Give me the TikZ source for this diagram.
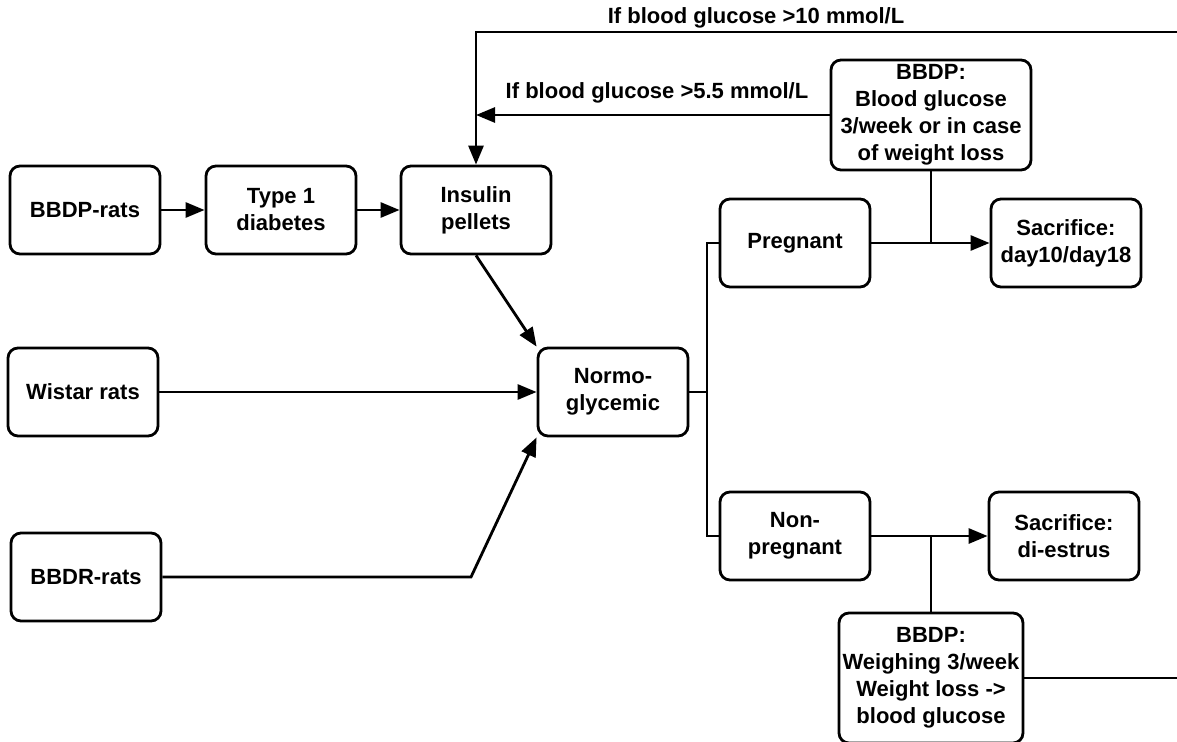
\documentclass[tikz,border=0pt]{standalone}
\usepackage{fontspec}
\setmainfont{Liberation Sans}
\usetikzlibrary{arrows.meta}
\newcommand{\flowbox}[4][]{\node[flow,#1] at (#2) (#3) {#4}}

\begin{document}
\begin{tikzpicture}[x=1pt,y=-1pt,
    flow/.style={draw,rounded corners=10pt,line width=2.8pt,minimum width=150pt,
      minimum height=88pt,align=center,inner sep=2pt,
      font=\fontsize{22}{27}\selectfont\bfseries},
    lbl/.style={inner sep=0pt,font=\fontsize{22}{27}\selectfont\bfseries},
    conn/.style={line width=2.8pt},
    arr/.style={conn,-{Triangle[length=19pt,width=15pt]}}]
  \useasboundingbox (0,0) rectangle (1177,741);
  \flowbox{85,210}{bbdp}{BBDP-rats};
  \flowbox{281,210}{type1}{Type 1\\diabetes};
  \flowbox{476,210}{insulin}{Insulin\\pellets};
  \flowbox{83,392}{wistar}{Wistar rats};
  \flowbox{86,577}{bbdr}{BBDR-rats};
  \flowbox{613,392}{normo}{Normo-\\glycemic};
  \flowbox{795,243}{preg}{Pregnant};
  \flowbox{795,536}{nonpreg}{Non-\\pregnant};
  \flowbox{1066,243}{sactop}{Sacrifice:\\day10/day18};
  \flowbox{1064,536}{sacbot}{Sacrifice:\\di-estrus};
  \flowbox[minimum width=200pt,minimum height=110pt]{931,115}{bgtop}{BBDP:\\Blood glucose\\3/week or in case\\of weight loss};
  \flowbox[minimum width=184pt,minimum height=130pt,inner sep=0pt]{931,678}{bgbot}{BBDP:\\Weighing 3/week\\Weight loss ->\\blood glucose};
  \node[lbl] (lblten) at (756,18) {If blood glucose >10 mmol/L};
  \node[lbl] (lblfive) at (657,93) {If blood glucose >5.5 mmol/L};
  \coordinate (topleft) at (476,32);
  \coordinate (edgetop) at (1177,32);
  \coordinate (edgebot) at (1177,678);
  \coordinate (bend) at (471,577);
  \coordinate (split) at (707,392);
  \draw[arr] (bbdp) -- (type1);
  \draw[arr] (type1) -- (insulin);
  \draw[arr] (insulin.south) -- (normo.north west);
  \draw[arr] (wistar) -- (normo);
  \draw[arr] (bbdr.east) -- (bend) -- (normo.south west);
  \draw[conn] (normo.east) -- (split);
  \draw[conn] (preg.west) -| (split) |- (nonpreg.west);
  \draw[arr] (preg) -- (sactop);
  \draw[arr] (nonpreg) -- (sacbot);
  \draw[conn] (bgtop.south) -- (bgtop.south |- preg.east);
  \draw[conn] (bgbot.north) -- (bgbot.north |- nonpreg.east);
  \draw[arr] (bgtop.west) -- (topleft |- bgtop.west);
  \draw[arr] (edgetop) -- (topleft) -- (insulin.north);
  \draw[conn] (bgbot.east) -- (edgebot);
\end{tikzpicture}
\end{document}
